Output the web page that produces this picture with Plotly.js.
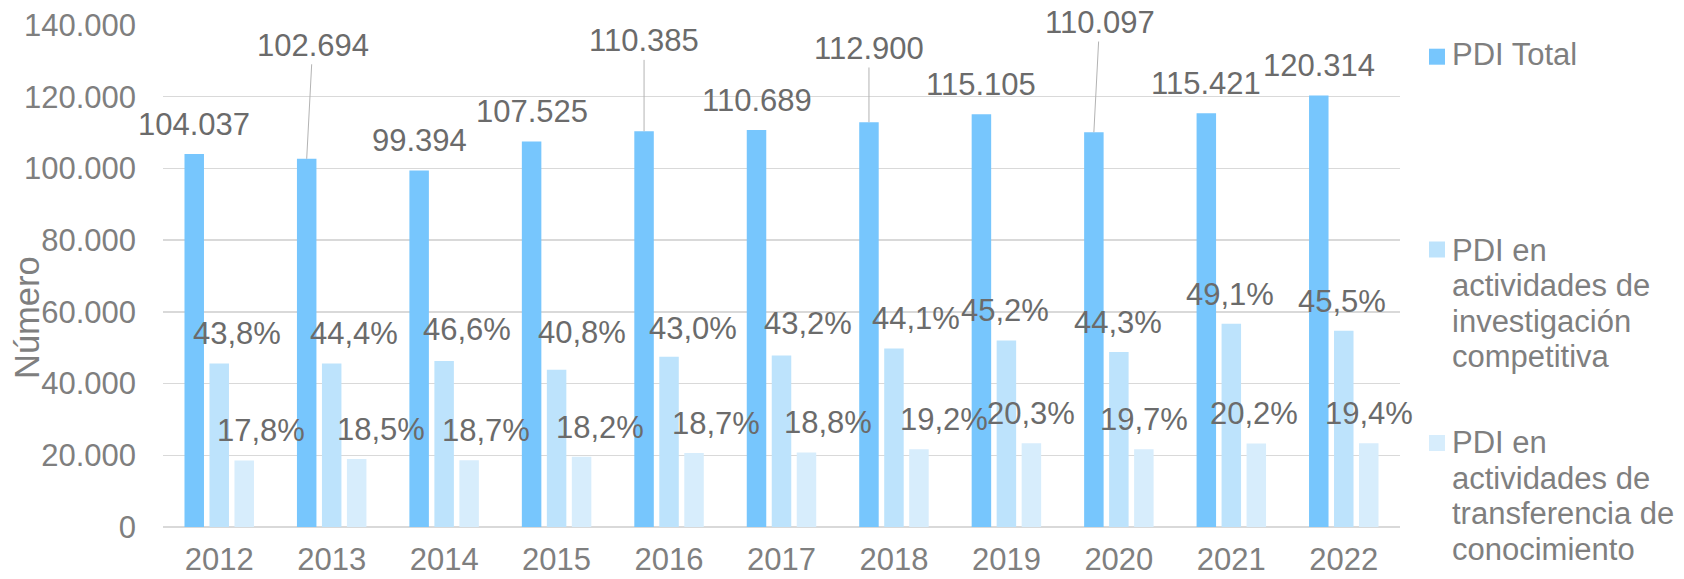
<!DOCTYPE html>
<html>
<head>
<meta charset="utf-8">
<script src="https://cdn.plot.ly/plotly-3.0.1.min.js"></script>
<style>
  html, body { margin: 0; padding: 0; background: #ffffff; }
  #chart { width: 1684px; height: 579px; }
</style>
</head>
<body>
<div id="chart"></div>
<script>
// ---------- data ----------
const categories = ['2012', '2013', '2014', '2015', '2016', '2017', '2018', '2019', '2020', '2021', '2022'];
const pdiTotal = [104037, 102694, 99394, 107525, 110385, 110689, 112900, 115105, 110097, 115421, 120314];
const pdiInvestigacion = [45568, 45596, 46318, 43870, 47466, 47818, 49789, 52027, 48773, 56672, 54743];
const pdiTransferencia = [18519, 18998, 18587, 19570, 20642, 20810, 21677, 23366, 21689, 23315, 23341];
const pctInvestigacion = ['43,8%', '44,4%', '46,6%', '40,8%', '43,0%', '43,2%', '44,1%', '45,2%', '44,3%', '49,1%', '45,5%'];
const pctTransferencia = ['17,8%', '18,5%', '18,7%', '18,2%', '18,7%', '18,8%', '19,2%', '20,3%', '19,7%', '20,2%', '19,4%'];
const seriesNames = ['PDI Total', 'PDI en actividades de investigación competitiva', 'PDI en actividades de transferencia de conocimiento'];
const legendLines = [
  ['PDI Total'],
  ['PDI en', 'actividades de', 'investigación', 'competitiva'],
  ['PDI en', 'actividades de', 'transferencia de', 'conocimiento']
];
const yTickVals = [0, 20000, 40000, 60000, 80000, 100000, 120000, 140000];

// ---------- style / layout constants ----------
const colors = ['#77c6fd', '#bde3fc', '#d7edfc'];
const FONT = 'Liberation Sans, Arial, sans-serif';
const PLOT = { l: 163, t: 25, w: 1237, h: 502 };
const BARGAP = 1 / 3;
const slot = (1 - BARGAP) / 3;           // width of each bar slot in category units
const offsets = [-slot, 0, slot];
// label fine placement (pixels)
const invShift = [17.5, 22.5, 22.5, 25, 23.5, 26, 21.6, -1, -1, -1, -1.5];
const traShift = [16.7, 24, 16.6, 18, 21.6, 21.6, 25, 0, 0, -2.5, 0];
const invLift = [19, 19, 21, 26, 18, 21, 19, 19, 19, 19, 19];
const leaders = { 1: { dx: 6, lift: 102.8 }, 4: { dx: 0, lift: 79.6 }, 6: { dx: 0, lift: 63 }, 8: { dx: 5.75, lift: 99 } };
const BASE2CENTER = 10.7;

function fmtThousands(v) { return String(v).replace(/\B(?=(\d{3})+(?!\d))/g, '.'); }
function paperX(px) { return (px - PLOT.l) / PLOT.w; }
function paperY(py) { return (PLOT.t + PLOT.h - py) / PLOT.h; }

const values = [pdiTotal, pdiInvestigacion, pdiTransferencia];
const traces = values.map((vals, k) => ({
  type: 'bar',
  x: categories,
  y: vals,
  name: seriesNames[k],
  marker: { color: colors[k] },
  hoverinfo: 'none'
}));

const labelFont = { family: FONT, size: 31, color: '#6b6b6b' };
const annotations = [];

// total labels
pdiTotal.forEach((v, i) => {
  const ld = leaders[i];
  if (ld) {
    annotations.push({
      x: i + offsets[0], y: v, xref: 'x', yref: 'y',
      text: fmtThousands(v), font: labelFont,
      showarrow: true, arrowhead: 0, arrowwidth: 1, arrowcolor: '#b3b3b3',
      ax: ld.dx, ay: -(ld.lift + BASE2CENTER), standoff: 0
    });
  } else {
    annotations.push({
      x: i + offsets[0], y: v, xref: 'x', yref: 'y',
      text: fmtThousands(v), font: labelFont, showarrow: false,
      xanchor: 'center', yanchor: 'middle', yshift: 19 + BASE2CENTER
    });
  }
});
// percentage labels
pdiInvestigacion.forEach((v, i) => {
  annotations.push({
    x: i + offsets[1], y: v, xref: 'x', yref: 'y',
    text: pctInvestigacion[i], font: labelFont, showarrow: false,
    xanchor: 'center', yanchor: 'middle', xshift: invShift[i], yshift: invLift[i] + BASE2CENTER
  });
});
pdiTransferencia.forEach((v, i) => {
  annotations.push({
    x: i + offsets[2], y: v, xref: 'x', yref: 'y',
    text: pctTransferencia[i], font: labelFont, showarrow: false,
    xanchor: 'center', yanchor: 'middle', xshift: traShift[i], yshift: 19 + BASE2CENTER
  });
});

// axis title
annotations.push({
  x: paperX(27.5), y: paperY(317.5), xref: 'paper', yref: 'paper',
  text: 'Número', textangle: -90, showarrow: false,
  font: { family: FONT, size: 34.5, color: '#7f7f7f' },
  xanchor: 'center', yanchor: 'middle'
});

// custom legend
const legendFirstBaseline = [65.7, 261, 453.3];
const legendSquareCenter = [56.7, 249.5, 443];
const LINE_STEP = 35.5;
const shapes = [];
legendLines.forEach((lines, k) => {
  lines.forEach((t, j) => {
    annotations.push({
      x: paperX(1450), y: paperY(legendFirstBaseline[k] + j * LINE_STEP - BASE2CENTER),
      xref: 'paper', yref: 'paper', text: t, showarrow: false,
      font: { family: FONT, size: 31, color: '#7f7f7f' },
      xanchor: 'left', yanchor: 'middle'
    });
  });
  shapes.push({
    type: 'rect', xref: 'paper', yref: 'paper',
    x0: paperX(1429), x1: paperX(1445),
    y0: paperY(legendSquareCenter[k] + 8), y1: paperY(legendSquareCenter[k] - 8),
    fillcolor: colors[k], line: { width: 0 }
  });
});

const layout = {
  width: 1684, height: 579,
  margin: { l: PLOT.l, r: 1684 - PLOT.l - PLOT.w, t: PLOT.t, b: 579 - PLOT.t - PLOT.h, pad: 0 },
  paper_bgcolor: '#ffffff', plot_bgcolor: '#ffffff',
  barmode: 'group', bargap: BARGAP, bargroupgap: 0.22,
  showlegend: false,
  separators: ',.',
  font: { family: FONT, size: 31, color: '#7f7f7f' },
  xaxis: {
    type: 'category', categoryorder: 'array', categoryarray: categories,
    range: [-0.5, categories.length - 0.5], autorange: false,
    showgrid: false, zeroline: false, showline: false, ticks: '',
    tickfont: { family: FONT, size: 31, color: '#7f7f7f' },
    ticklabelstandoff: 11, fixedrange: true
  },
  yaxis: {
    range: [0, 140000], autorange: false, tickvals: yTickVals, tickformat: ',d',
    showgrid: true, gridcolor: '#d9d9d9', gridwidth: 1.3,
    zeroline: true, zerolinecolor: '#d9d9d9', zerolinewidth: 1.3,
    showline: false, ticks: '',
    tickfont: { family: FONT, size: 31, color: '#7f7f7f' },
    ticklabelstandoff: 26, fixedrange: true
  },
  annotations: annotations,
  shapes: shapes,
  hovermode: false
};

Plotly.newPlot('chart', traces, layout, { staticPlot: true, displayModeBar: false });
</script>
</body>
</html>
